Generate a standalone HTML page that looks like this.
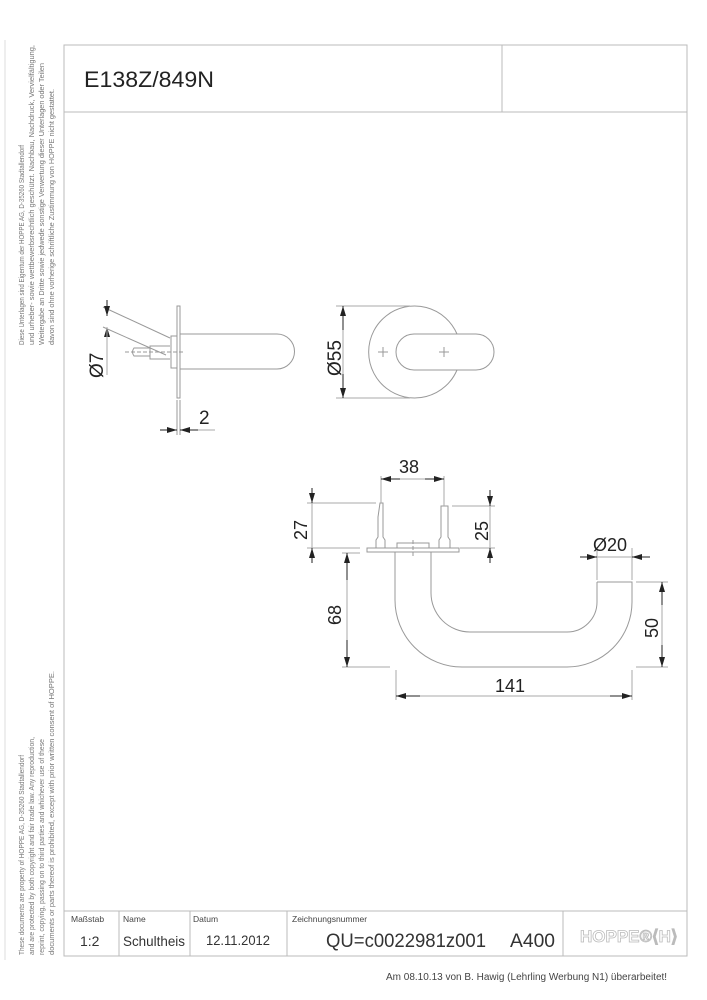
<!DOCTYPE html>
<html><head><meta charset="utf-8"><style>
html,body{margin:0;padding:0;background:#fff;}
svg{display:block;font-family:"Liberation Sans",sans-serif;}
</style></head><body>
<svg width="707" height="1000" viewBox="0 0 707 1000" xmlns="http://www.w3.org/2000/svg">
<defs>
<marker id="a" viewBox="0 0 10 6" refX="10" refY="3" markerWidth="14" markerHeight="6" markerUnits="userSpaceOnUse" orient="auto-start-reverse"><path d="M0,0 L10,3 L0,6Z" fill="#222"/></marker>
</defs>
<line x1="5" y1="40" x2="5" y2="960" stroke="#ddd"/>
<g fill="none" stroke="#bbb" stroke-width="1">
<rect x="64" y="45" width="623" height="911"/>
<line x1="64" y1="112" x2="687" y2="112"/>
<line x1="502" y1="45" x2="502" y2="112"/>
<line x1="64" y1="911" x2="687" y2="911"/>
<line x1="119" y1="911" x2="119" y2="956"/>
<line x1="190" y1="911" x2="190" y2="956"/>
<line x1="287" y1="911" x2="287" y2="956"/>
<line x1="563" y1="911" x2="563" y2="956"/>
</g>
<text x="84" y="87" font-size="22" fill="#222" textLength="130" lengthAdjust="spacingAndGlyphs">E138Z/849N</text>
<g fill="#444" font-size="8.5">
<text x="71" y="922">Maßstab</text><text x="123" y="922">Name</text><text x="193" y="922">Datum</text><text x="292" y="922">Zeichnungsnummer</text>
</g>
<g fill="#333">
<text x="80" y="946" font-size="14">1:2</text>
<text x="123" y="946" font-size="14" textLength="62" lengthAdjust="spacingAndGlyphs">Schultheis</text>
<text x="206" y="945" font-size="14" textLength="64" lengthAdjust="spacingAndGlyphs">12.11.2012</text>
<text x="326" y="947" font-size="19" textLength="160" lengthAdjust="spacingAndGlyphs">QU=c0022981z001</text>
<text x="510" y="947" font-size="19" textLength="45" lengthAdjust="spacingAndGlyphs">A400</text>
</g>
<text x="580" y="942" font-size="17" fill="#fff" stroke="#bbb" stroke-width="0.8" font-weight="bold">HOPPE®⟨H⟩</text>
<text x="386" y="980" font-size="10" fill="#444">Am 08.10.13 von B. Hawig (Lehrling Werbung N1) überarbeitet!</text>
<g fill="#777" font-size="7">
<g transform="translate(24,345) rotate(-90)">
<text x="0" y="0" textLength="200" lengthAdjust="spacingAndGlyphs">Diese Unterlagen sind Eigentum der  HOPPE AG, D-35260 Stadtallendorf</text>
<text x="0" y="10" textLength="300" lengthAdjust="spacingAndGlyphs">und urheber- sowie wettbewerbsrechtlich geschützt. Nachbau, Nachdruck, Vervielfältigung,</text>
<text x="0" y="20" textLength="282" lengthAdjust="spacingAndGlyphs">Weitergabe an Dritte sowie jedwede sonstige Verwertung dieser Unterlagen oder Teilen</text>
<text x="0" y="30" textLength="256" lengthAdjust="spacingAndGlyphs">davon sind ohne vorherige schriftliche Zustimmung von HOPPE nicht gestattet.</text>
</g>
<g transform="translate(24,955) rotate(-90)">
<text x="0" y="0" textLength="200" lengthAdjust="spacingAndGlyphs">These documents are property of HOPPE AG, D-35260 Stadtallendorf</text>
<text x="0" y="10" textLength="218" lengthAdjust="spacingAndGlyphs">and are protected by both copyright and fair trade law. Any reproduction,</text>
<text x="0" y="20" textLength="216" lengthAdjust="spacingAndGlyphs">reprint, copying, passing on to third parties and whichever use of these</text>
<text x="0" y="30" textLength="284" lengthAdjust="spacingAndGlyphs">documents or parts thereof is prohibited, except with prior written consent of HOPPE.</text>
</g>
</g>
<g fill="none" stroke="#999" stroke-width="1">
<rect x="177" y="306" width="3" height="92"/>
<rect x="171" y="336" width="6" height="32"/>
<path d="M180,334 H277 A17.5,17.5 0 0 1 277,369 H180"/>
<path d="M170,346 H150 V359 H170"/>
<path d="M150,348 H134 Q131,352 134,356 H150"/>
<line x1="103" y1="307" x2="170" y2="338"/>
<line x1="103" y1="327" x2="166" y2="355"/>
<line x1="125" y1="352" x2="185" y2="352" stroke-dasharray="4,2"/>
<line x1="177" y1="400" x2="177" y2="435"/>
<line x1="180" y1="400" x2="180" y2="435"/>
</g>
<g stroke="#222" stroke-width="1">
<line x1="107" y1="300" x2="107" y2="316" marker-end="url(#a)"/>
<line x1="107" y1="342" x2="107" y2="327" marker-end="url(#a)"/>
<line x1="107" y1="327" x2="107" y2="375" stroke="#aaa"/>
<line x1="160" y1="430" x2="177" y2="430" marker-end="url(#a)"/>
<line x1="198" y1="430" x2="180" y2="430" marker-end="url(#a)"/>
<line x1="198" y1="430" x2="215" y2="430" stroke="#aaa"/>
</g>
<text transform="translate(103,378) rotate(-90)" font-size="19" fill="#222">Ø7</text>
<text x="199" y="424" font-size="19" fill="#222">2</text>
<g fill="none" stroke="#999" stroke-width="1">
<path d="M457,334 A46,46 0 1 0 457,370"/>
<path d="M476,334 H414 A18,18 0 0 0 414,370 H476 A17.5,17.5 0 0 0 476,334" />
<path d="M378,352 h10 M383,347 v10 M439,352 h10 M444,347 v10"/>
<line x1="336" y1="306" x2="410" y2="306" stroke="#aaa"/>
<line x1="336" y1="398" x2="410" y2="398" stroke="#aaa"/>
</g>
<g stroke="#222">
<line x1="343" y1="330" x2="343" y2="306" marker-end="url(#a)"/>
<line x1="343" y1="374" x2="343" y2="398" marker-end="url(#a)"/>
<line x1="343" y1="330" x2="343" y2="374" stroke="#aaa"/>
</g>
<text transform="translate(341,376) rotate(-90)" font-size="19" fill="#222">Ø55</text>
<g fill="none" stroke="#999" stroke-width="1">
<rect x="367" y="548" width="92" height="4"/>
<rect x="397" y="543" width="32" height="5"/>
<path d="M376,548 v-8 l2,-3 v-20 l2,-14 h3 v34 l2,3 v8"/>
<path d="M439,548 v-8 l2,-3 v-31 h7 v31 l2,3 v8"/>
<path d="M395,552 V600 A67,67 0 0 0 462,667 H567 A65,65 0 0 0 632,602 V582 H597"/>
<path d="M431,552 V593 A39,39 0 0 0 470,632 H567 A30,30 0 0 0 597,602 V582"/>
<line x1="413" y1="540" x2="413" y2="558" stroke-dasharray="4,2"/>
<line x1="381" y1="476" x2="381" y2="503" stroke="#aaa"/>
<line x1="444" y1="476" x2="444" y2="506" stroke="#aaa"/>
<line x1="307" y1="503" x2="376" y2="503" stroke="#aaa"/>
<line x1="307" y1="548" x2="360" y2="548" stroke="#aaa"/>
<line x1="452" y1="506" x2="495" y2="506" stroke="#aaa"/>
<line x1="460" y1="548" x2="495" y2="548" stroke="#aaa"/>
<line x1="342" y1="553" x2="360" y2="553" stroke="#aaa"/>
<line x1="342" y1="667" x2="390" y2="667" stroke="#aaa"/>
<line x1="636" y1="582" x2="668" y2="582" stroke="#aaa"/>
<line x1="636" y1="667" x2="668" y2="667" stroke="#aaa"/>
<line x1="396" y1="670" x2="396" y2="700" stroke="#aaa"/>
<line x1="632" y1="670" x2="632" y2="700" stroke="#aaa"/>
<line x1="597" y1="548" x2="597" y2="580" stroke="#aaa"/>
<line x1="632" y1="548" x2="632" y2="580" stroke="#aaa"/>
</g>
<g stroke="#222">
<line x1="400" y1="479" x2="381" y2="479" marker-end="url(#a)"/>
<line x1="425" y1="479" x2="444" y2="479" marker-end="url(#a)"/>
<line x1="400" y1="479" x2="425" y2="479" stroke="#aaa"/>
<line x1="312" y1="488" x2="312" y2="503" marker-end="url(#a)"/>
<line x1="312" y1="563" x2="312" y2="548" marker-end="url(#a)"/>
<line x1="312" y1="503" x2="312" y2="548" stroke="#aaa"/>
<line x1="490" y1="490" x2="490" y2="506" marker-end="url(#a)"/>
<line x1="490" y1="563" x2="490" y2="548" marker-end="url(#a)"/>
<line x1="490" y1="506" x2="490" y2="548" stroke="#aaa"/>
<line x1="347" y1="580" x2="347" y2="553" marker-end="url(#a)"/>
<line x1="347" y1="640" x2="347" y2="667" marker-end="url(#a)"/>
<line x1="347" y1="580" x2="347" y2="640" stroke="#aaa"/>
<line x1="662" y1="605" x2="662" y2="582" marker-end="url(#a)"/>
<line x1="662" y1="645" x2="662" y2="667" marker-end="url(#a)"/>
<line x1="662" y1="605" x2="662" y2="645" stroke="#aaa"/>
<line x1="420" y1="696" x2="396" y2="696" marker-end="url(#a)"/>
<line x1="610" y1="696" x2="632" y2="696" marker-end="url(#a)"/>
<line x1="420" y1="696" x2="610" y2="696" stroke="#aaa"/>
<line x1="580" y1="557" x2="597" y2="557" marker-end="url(#a)"/>
<line x1="650" y1="557" x2="632" y2="557" marker-end="url(#a)"/>
<line x1="597" y1="557" x2="632" y2="557" stroke="#aaa"/>
</g>
<g font-size="18" fill="#222">
<text x="399" y="473">38</text>
<text transform="translate(307,540) rotate(-90)">27</text>
<text transform="translate(488,541) rotate(-90)">25</text>
<text transform="translate(341,625) rotate(-90)">68</text>
<text transform="translate(658,638) rotate(-90)">50</text>
<text x="495" y="692">141</text>
<text x="593" y="551">Ø20</text>
</g>
</svg>
</body></html>
